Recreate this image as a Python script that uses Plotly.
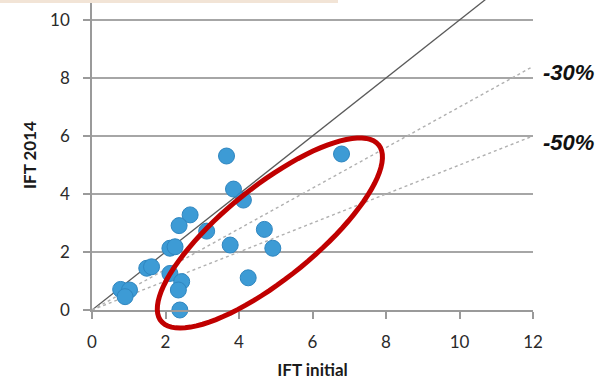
import numpy as np
import plotly.graph_objects as go

# Data
ift_initial = [3.66, 3.85, 4.12, 2.67, 2.37, 3.12, 4.69, 3.76, 4.92, 2.12, 2.26,
               1.49, 1.62, 2.12, 4.25, 2.44, 2.35, 0.78, 1.02, 0.90, 2.39, 6.79]
ift_2014 = [5.31, 4.17, 3.79, 3.28, 2.91, 2.72, 2.78, 2.24, 2.13, 2.13, 2.18,
            1.44, 1.49, 1.26, 1.11, 0.98, 0.69, 0.71, 0.69, 0.46, 0.0, 5.38]

reductions = [0.0, 0.30, 0.50]          # reference lines y = (1 - r) * x
reduction_labels = ["", "-30%", "-50%"]
x_ticks = [0, 2, 4, 6, 8, 10, 12]
y_ticks = [0, 2, 4, 6, 8, 10]

X_RANGE = [0, 12]
Y_RANGE = [0, 10.69]
W, H = 613, 382
M = dict(l=92, r=80, t=0, b=72)

fig = go.Figure()

line_x = [X_RANGE[0], X_RANGE[1]]
for r, lab in zip(reductions, reduction_labels):
    ys = [(1 - r) * v for v in line_x]
    if r == 0:
        style = dict(color="#5a5a5a", width=1.3)
    else:
        style = dict(color="#b0b0b0", width=1.4, dash="dot")
    fig.add_trace(go.Scatter(x=line_x, y=ys, mode="lines", line=style,
                             hoverinfo="skip", showlegend=False))
    if lab:
        fig.add_annotation(x=X_RANGE[1], y=ys[-1], xref="x", yref="y",
                           text="<b><i>%s</i></b>" % lab, showarrow=False,
                           xanchor="left", xshift=8, yshift=-6,
                           font=dict(family="Liberation Sans", size=22, color="#111"))

fig.add_trace(go.Scatter(x=ift_initial, y=ift_2014, mode="markers",
                         marker=dict(size=16, color="#3d9bd5",
                                     line=dict(color="#2f86c0", width=1)),
                         showlegend=False, cliponaxis=False))

# Red highlight ellipse (pixel-like sizes, placed in paper coords so it is not clipped)
plot_w = W - M["l"] - M["r"]
plot_h = H - M["t"] - M["b"]
ell = dict(cx=4.84, cy=2.655, a=140, b=46, angle=39)
t = np.linspace(0, 2 * np.pi, 90)
th = np.radians(ell["angle"])
u = ell["a"] * np.cos(t)
v = ell["b"] * np.sin(t)
dx = u * np.cos(th) - v * np.sin(th)
dy = u * np.sin(th) + v * np.cos(th)
pcx = (ell["cx"] - X_RANGE[0]) / (X_RANGE[1] - X_RANGE[0])
pcy = (ell["cy"] - Y_RANGE[0]) / (Y_RANGE[1] - Y_RANGE[0])
ex = pcx + dx / plot_w
ey = pcy + dy / plot_h
path = "M " + " L ".join("%.5f,%.5f" % (a, b) for a, b in zip(ex, ey)) + " Z"
fig.add_shape(type="path", path=path, xref="paper", yref="paper",
              line=dict(color="#c00000", width=5))

# beige strip at top
fig.add_shape(type="rect", xref="paper", yref="paper",
              x0=(0 - M["l"]) / plot_w, x1=(338 - M["l"]) / plot_w,
              y0=1 - 3 / plot_h, y1=1, line=dict(width=0), fillcolor="#f2e4d6")

tick_font = dict(family="Lato, Open Sans, sans-serif", size=17, color="#2a2a2a")
title_font = dict(family="Lato, Open Sans, sans-serif", size=17, color="#1a1a1a")

fig.update_xaxes(range=X_RANGE, tickvals=x_ticks, showgrid=False, automargin=False,
                 showline=True, linecolor="#9a9a9a", linewidth=1.5,
                 ticks="outside", ticklen=7, tickcolor="#9a9a9a", tickwidth=1.5,
                 tickfont=tick_font, zeroline=False, ticklabelstandoff=9,
                 title=dict(text="<b>IFT initial</b>", font=title_font, standoff=13))
fig.update_yaxes(range=Y_RANGE, tickvals=y_ticks, showgrid=True, automargin=False,
                 gridcolor="#a6a6a6", gridwidth=1.5,
                 showline=True, linecolor="#9a9a9a", linewidth=1.5,
                 ticks="outside", ticklen=7, tickcolor="#9a9a9a", tickwidth=1.5,
                 tickfont=tick_font, zeroline=False, ticklabelstandoff=10,
                 title=dict(text="<b>IFT 2014</b>", font=title_font, standoff=9))

fig.update_layout(width=W, height=H, margin=M, plot_bgcolor="white",
                  paper_bgcolor="white")

fig.write_html("out.html", config={"displayModeBar": False},
               post_script="document.body.style.margin='0';document.body.style.padding='0';")
